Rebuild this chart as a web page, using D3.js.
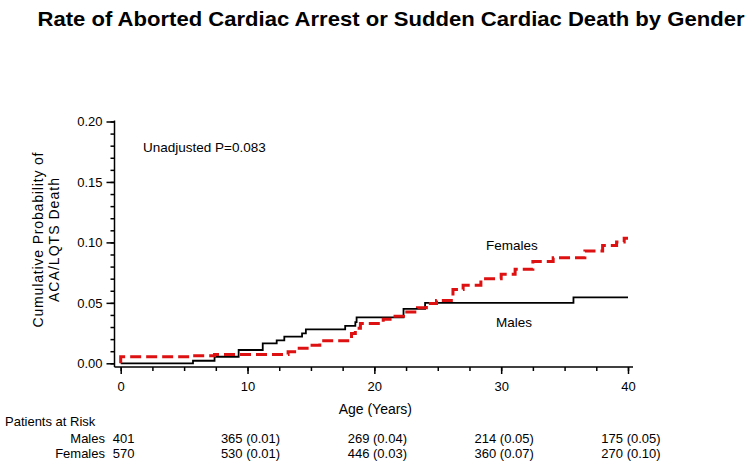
<!DOCTYPE html>
<html>
<head>
<meta charset="utf-8">
<script src="https://cdn.jsdelivr.net/npm/d3@7"></script>
<style>
  body { margin: 0; background: #fff; }
  svg { display: block; font-family: "Liberation Sans", Arial, sans-serif; }
</style>
</head>
<body>
<div id="chart"></div>
<script>
// step points [age, cumulative probability]
const males = [
    [0, 0], [5.7, 0.0021], [7.4, 0.0054], [9.3, 0.011], [11.2, 0.0165],
    [12.3, 0.019], [12.9, 0.022], [14.3, 0.0247], [14.6, 0.028], [17.7, 0.031],
    [18.5, 0.034], [18.6, 0.038], [22.3, 0.045], [24.0, 0.050], [35.7, 0.0545]
];
const females = [
    [0, 0.0054], [5.7, 0.0062], [7.4, 0.0072], [13.2, 0.0096], [13.9, 0.0124],
    [14.7, 0.015], [15.7, 0.0186], [18.2, 0.0247], [18.5, 0.029], [18.9, 0.033],
    [20.7, 0.0365], [21.5, 0.039], [22.3, 0.0425], [23.4, 0.046], [24.1, 0.0495],
    [24.9, 0.052], [26.2, 0.061], [27.0, 0.0645], [28.4, 0.070], [30.0, 0.0736],
    [31.1, 0.0777], [32.5, 0.0843], [34.1, 0.0874], [36.6, 0.0928], [38.0, 0.0975],
    [39.1, 0.1003], [39.7, 0.1035]
];
const endAge = 40;

const xTicks = [0, 10, 20, 30, 40];
const yTicks = [0, 0.05, 0.10, 0.15, 0.20];

const riskGroups = ["Males", "Females"];
const malesAtRisk = ["401", "365 (0.01)", "269 (0.04)", "214 (0.05)", "175 (0.05)"];
const femalesAtRisk = ["570", "530 (0.01)", "446 (0.03)", "360 (0.07)", "270 (0.10)"];

const width = 750, height = 467;

const svg = d3.select("#chart").append("svg")
    .attr("width", width).attr("height", height);

const x = d3.scaleLinear().domain([0, 40]).range([120.7, 628]);
const y = d3.scaleLinear().domain([0, 0.2]).range([363.3, 121.5]);

const axisX0 = 114.5;  // y axis sits a bit left of age 0
const axisY0 = 367;    // x axis sits a bit below prob 0

// title
svg.append("text")
    .attr("x", 391).attr("y", 26)
    .attr("text-anchor", "middle")
    .attr("font-size", "21px").attr("font-weight", "bold")
    .attr("textLength", 707).attr("lengthAdjust", "spacingAndGlyphs")
    .text("Rate of Aborted Cardiac Arrest or Sudden Cardiac Death by Gender");

// y axis
const gy = svg.append("g").attr("transform", `translate(${axisX0},0)`);
gy.call(d3.axisLeft(y).tickValues(d3.range(0, 0.2001, 0.01)).tickSize(4).tickFormat(""))
    .select(".domain").remove();
gy.append("g").call(d3.axisLeft(y).tickValues(yTicks).tickSize(8).tickPadding(4).tickFormat(d3.format(".2f")))
    .call(g => g.select(".domain").remove())
    .selectAll("text").attr("font-size", "13px").attr("fill", "#000")
    .attr("font-family", "Liberation Sans, Arial, sans-serif");
gy.selectAll("line").attr("stroke", "#000").attr("stroke-width", 1.5);
gy.append("line").attr("x1", 0).attr("x2", 0)
    .attr("y1", y(0.2) - 1).attr("y2", axisY0)
    .attr("stroke", "#000").attr("stroke-width", 1.5);

// x axis
const gx = svg.append("g").attr("transform", `translate(0,${axisY0})`);
gx.call(d3.axisBottom(x).tickValues(d3.range(0, 40.01, 2.5)).tickSize(4).tickFormat(""))
    .select(".domain").remove();
gx.append("g").call(d3.axisBottom(x).tickValues(xTicks).tickSize(7).tickPadding(8).tickFormat(d3.format("d")))
    .call(g => g.select(".domain").remove())
    .selectAll("text").attr("font-size", "13px").attr("fill", "#000")
    .attr("font-family", "Liberation Sans, Arial, sans-serif");
gx.selectAll("line").attr("stroke", "#000").attr("stroke-width", 1.5);
gx.append("line").attr("x1", axisX0).attr("x2", x(40) + 5)
    .attr("y1", 0).attr("y2", 0)
    .attr("stroke", "#000").attr("stroke-width", 1.5);

// axis titles
svg.append("text")
    .attr("x", x(20) + 1).attr("y", 414)
    .attr("text-anchor", "middle").attr("font-size", "14px")
    .text("Age (Years)");

const yTitle = svg.append("text")
    .attr("transform", "translate(0,240) rotate(-90)")
    .attr("text-anchor", "middle").attr("font-size", "14px");
yTitle.append("tspan").attr("x", 0).attr("y", 43).text("Cumulative Probability of")
    .attr("textLength", 175).attr("lengthAdjust", "spacing");
yTitle.append("tspan").attr("x", 0).attr("y", 59).text("ACA/LQTS Death")
    .attr("textLength", 124).attr("lengthAdjust", "spacing");

// curves
const line = d3.line()
    .x(d => x(d[0])).y(d => y(d[1]))
    .curve(d3.curveStepAfter);

const withEnd = pts => pts.concat([[endAge, pts[pts.length - 1][1]]]);

svg.append("path")
    .datum(withEnd(males))
    .attr("d", line)
    .attr("fill", "none").attr("stroke", "#000").attr("stroke-width", 1.8);

svg.append("path")
    .datum([[0, 0]].concat(withEnd(females)))
    .attr("d", line)
    .attr("fill", "none").attr("stroke", "#dd1111").attr("stroke-width", 3)
    .attr("stroke-dasharray", "11,5");

// annotations
svg.append("text").attr("x", 143).attr("y", 152)
    .attr("font-size", "13.5px").text("Unadjusted P=0.083");
svg.append("text").attr("x", 512).attr("y", 250)
    .attr("text-anchor", "middle").attr("font-size", "13.5px").text("Females");
svg.append("text").attr("x", 514).attr("y", 327)
    .attr("text-anchor", "middle").attr("font-size", "13.5px").text("Males");

// patients at risk table
svg.append("text").attr("x", 5).attr("y", 426)
    .attr("font-size", "13px").text("Patients at Risk");

const rows = [malesAtRisk, femalesAtRisk];
const rowY = [443, 458];
rows.forEach((vals, i) => {
    svg.append("text").attr("x", 105).attr("y", rowY[i])
        .attr("text-anchor", "end").attr("font-size", "13px")
        .text(riskGroups[i]);
    svg.selectAll(null)
        .data(vals)
        .join("text")
        .attr("x", (d, j) => x(xTicks[j]) + 3)
        .attr("y", rowY[i])
        .attr("text-anchor", "middle").attr("font-size", "13px")
        .text(d => d);
});
</script>
</body>
</html>
